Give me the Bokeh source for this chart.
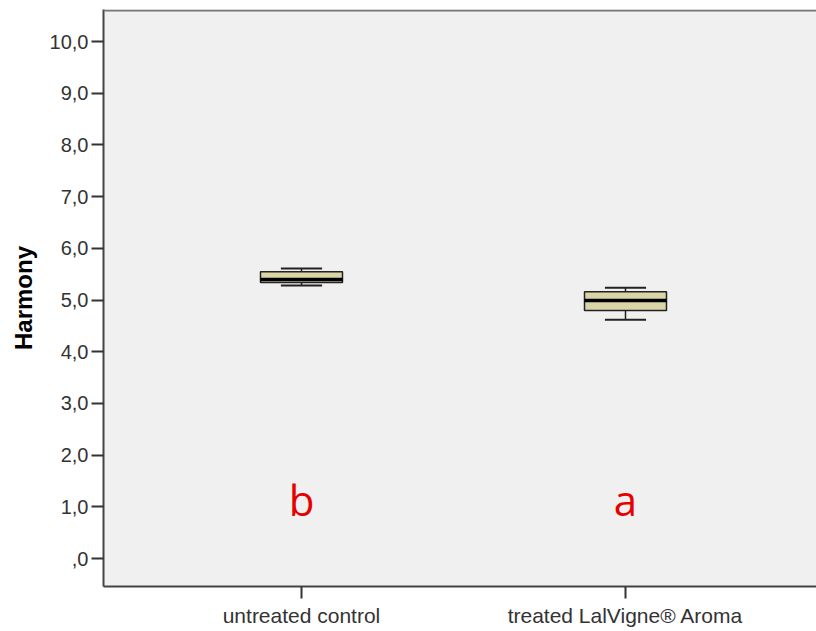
from bokeh.plotting import figure
from bokeh.models import FixedTicker, Span
from bokeh.core.properties import value
from bokeh.embed import file_html
from bokeh.resources import INLINE

# data
categories = ["untreated control", "treated LalVigne® Aroma"]
whisker_low = [5.28, 4.62]
q1 = [5.34, 4.80]
median = [5.40, 4.99]
q3 = [5.55, 5.16]
whisker_high = [5.61, 5.24]
letters = ["b", "a"]
y_ticks = [0, 1, 2, 3, 4, 5, 6, 7, 8, 9, 10]
y_tick_labels = [",0", "1,0", "2,0", "3,0", "4,0", "5,0", "6,0", "7,0", "8,0", "9,0", "10,0"]

xpos = [i + 1 for i in range(len(categories))]

p = figure(width=816, height=631, output_backend="svg", toolbar_location=None,
           x_range=(0.3889, 2.5895), y_range=(-0.54, 10.62),
           min_border_left=103, min_border_right=0, min_border_top=9, min_border_bottom=45)

p.background_fill_color = "#f0f0f0"
p.border_fill_color = "white"
p.outline_line_color = None
p.xgrid.visible = False
p.ygrid.visible = False

# top frame line
p.add_layout(Span(location=10.6, dimension="width", line_color="#777777", line_width=2))

box_w = 0.253
cap_w = 0.127
# whiskers
p.segment(x0=xpos, y0=whisker_low, x1=xpos, y1=q1, line_color="#222222", line_width=1.5)
p.segment(x0=xpos, y0=q3, x1=xpos, y1=whisker_high, line_color="#222222", line_width=1.5)
p.segment(x0=[x - cap_w / 2 for x in xpos], y0=whisker_low, x1=[x + cap_w / 2 for x in xpos],
          y1=whisker_low, line_color="#222222", line_width=2)
p.segment(x0=[x - cap_w / 2 for x in xpos], y0=whisker_high, x1=[x + cap_w / 2 for x in xpos],
          y1=whisker_high, line_color="#222222", line_width=2)
# boxes
p.vbar(x=xpos, width=box_w, bottom=q1, top=q3, fill_color="#d9d5a7",
       line_color="#222222", line_width=1.5)
# medians
p.segment(x0=[x - box_w / 2 for x in xpos], y0=median, x1=[x + box_w / 2 for x in xpos],
          y1=median, line_color="black", line_width=3.5)

# significance letters
p.text(x=xpos, y=[1.15] * len(xpos), text=letters, text_color="#e60000",
       text_font=value("Open Sans"), text_font_size="42px",
       text_align="center", text_baseline="alphabetic")

# axes
p.yaxis.ticker = FixedTicker(ticks=y_ticks)
p.yaxis.major_label_overrides = {t: l for t, l in zip(y_ticks, y_tick_labels)}
p.xaxis.ticker = FixedTicker(ticks=xpos)
p.xaxis.major_label_overrides = {x: c for x, c in zip(xpos, categories)}

for ax in (p.xaxis[0], p.yaxis[0]):
    ax.axis_line_color = "#444444"
    ax.axis_line_width = 2
    ax.major_tick_line_color = "#333333"
    ax.major_tick_line_width = 2
    ax.major_tick_in = 0
    ax.major_tick_out = 12
    ax.minor_tick_line_color = None
    ax.major_label_text_font = "Liberation Sans"
    ax.major_label_text_color = "#333333"

p.xaxis.major_label_text_font_size = "21px"
p.yaxis.major_label_text_font_size = "20px"
p.xaxis.major_label_standoff = 5
p.yaxis.major_label_standoff = 3
p.yaxis.axis_label = "Harmony"
p.yaxis.axis_label_text_font = "Liberation Sans"
p.yaxis.axis_label_text_font_style = "bold"
p.yaxis.axis_label_text_font_size = "24px"
p.yaxis.axis_label_text_color = "black"
p.yaxis.axis_label_standoff = 10

open("out.html", "w").write(file_html(p, INLINE))
